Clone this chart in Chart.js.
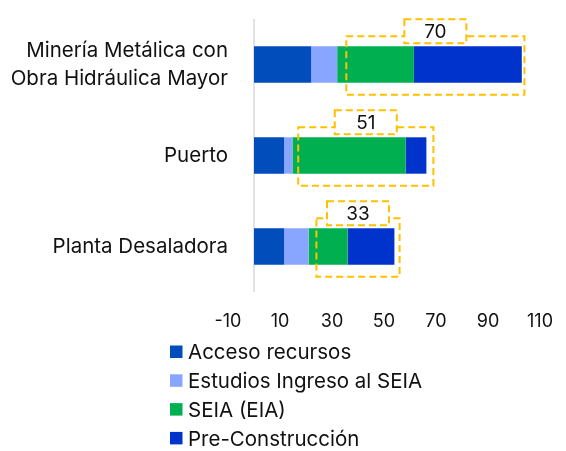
<!DOCTYPE html>
<html>
<head>
<meta charset="utf-8">
<script src="https://cdn.jsdelivr.net/npm/chart.js@4/dist/chart.umd.min.js"></script>
<style>
  html, body { margin: 0; padding: 0; background: #fff; }
  #wrap { width: 566px; height: 451px; position: relative; }
</style>
</head>
<body>
<div id="wrap"><canvas id="chart"></canvas></div>
<script>
// datos
const categories = [['Minería Metálica con', 'Obra Hidráulica Mayor'], 'Puerto', 'Planta Desaladora'];
const seriesNames = ['Acceso recursos', 'Estudios Ingreso al SEIA', 'SEIA (EIA)', 'Pre-Construcción'];
const accesoRecursos = [22, 11.6, 11.6];
const estudiosIngreso = [10, 3.2, 9.4];
const seiaEia = [29.5, 43.5, 15];
const preConstruccion = [41.5, 8, 18];
const highlightTotals = [70, 51, 33];   // SEIA + Pre-Construcción
const highlightFrom = [35.5, 17, 24];
const highlightTo = [104, 69, 56];
const xTicks = [-10, 10, 30, 50, 70, 90, 110];

const colors = ['#004DBB', '#88A6FF', '#00B050', '#0033CC'];
const FONT = 'Inter';
const textColor = '#111';

// línea vertical en x = 0
const zeroLine = {
  id: 'zeroLine',
  beforeDatasetsDraw(chart) {
    const { ctx, chartArea, scales: { x } } = chart;
    const px = x.getPixelForValue(0);
    ctx.save();
    ctx.strokeStyle = '#D9D9D9';
    ctx.lineWidth = 1.5;
    ctx.beginPath();
    ctx.moveTo(px, chartArea.top);
    ctx.lineTo(px, chartArea.bottom);
    ctx.stroke();
    ctx.restore();
  }
};

// recuadros punteados con el total
const highlights = {
  id: 'highlights',
  afterDatasetsDraw(chart) {
    const { ctx, scales: { x } } = chart;
    const meta = chart.getDatasetMeta(0);
    ctx.save();
    ctx.strokeStyle = '#FFC000';
    ctx.lineWidth = 2;
    ctx.setLineDash([7, 4]);
    highlightTotals.forEach((total, i) => {
      const bar = meta.data[i];
      const half = bar.height / 2;
      const left = x.getPixelForValue(highlightFrom[i]);
      const right = x.getPixelForValue(highlightTo[i]);
      const top = bar.y - half - 10;
      const bottom = bar.y + half + 12;
      ctx.strokeRect(left, top, right - left, bottom - top);

      const cx = (left + right) / 2, cy = top - 5;
      ctx.fillStyle = '#fff';
      ctx.fillRect(cx - 31, cy - 12, 62, 24);
      ctx.strokeRect(cx - 31, cy - 12, 62, 24);
      ctx.fillStyle = textColor;
      ctx.font = '19px ' + FONT;
      ctx.textAlign = 'center';
      ctx.textBaseline = 'middle';
      ctx.fillText(String(total), cx, cy + 1);
    });
    ctx.restore();
  }
};

// leyenda en una columna
const columnLegend = {
  id: 'columnLegend',
  afterDraw(chart) {
    const { ctx } = chart;
    ctx.save();
    ctx.font = '20.5px ' + FONT;
    ctx.textBaseline = 'middle';
    ctx.textAlign = 'left';
    chart.data.datasets.forEach((ds, i) => {
      const cy = 352 + i * 28.8;
      ctx.fillStyle = ds.backgroundColor;
      ctx.fillRect(170, cy - 6.5, 12.5, 12.5);
      ctx.fillStyle = textColor;
      ctx.fillText(ds.label, 188, cy + 1);
    });
    ctx.restore();
  }
};

const seriesData = [accesoRecursos, estudiosIngreso, seiaEia, preConstruccion];

new Chart(document.getElementById('chart'), {
  type: 'bar',
  data: {
    labels: categories,
    datasets: seriesNames.map((name, i) => ({
      label: name,
      data: seriesData[i],
      backgroundColor: colors[i],
      borderWidth: 0,
      categoryPercentage: 1,
      barPercentage: 0.4
    }))
  },
  options: {
    indexAxis: 'y',
    responsive: true,
    maintainAspectRatio: false,
    animation: false,
    layout: { padding: { top: 19, right: 26, bottom: 0, left: 0 } },
    scales: {
      x: {
        stacked: true,
        min: -10,
        max: 110,
        afterBuildTicks: (scale) => { scale.ticks = xTicks.map(v => ({ value: v })); },
        afterFit: (scale) => { scale.height = 159; scale.paddingLeft = 0; scale.paddingRight = 0; },
        grid: { display: false, drawTicks: false },
        border: { display: false },
        ticks: { padding: 19, color: textColor, font: { family: FONT, size: 18 } }
      },
      y: {
        stacked: true,
        afterFit: (scale) => { scale.width = 228; },
        grid: { display: false, drawTicks: false },
        border: { display: false },
        ticks: { padding: 0, color: textColor, font: { family: FONT, size: 20.5, lineHeight: 1.38 } }
      }
    },
    plugins: {
      legend: { display: false },
      tooltip: { enabled: false }
    }
  },
  plugins: [zeroLine, highlights, columnLegend]
});
</script>
</body>
</html>
